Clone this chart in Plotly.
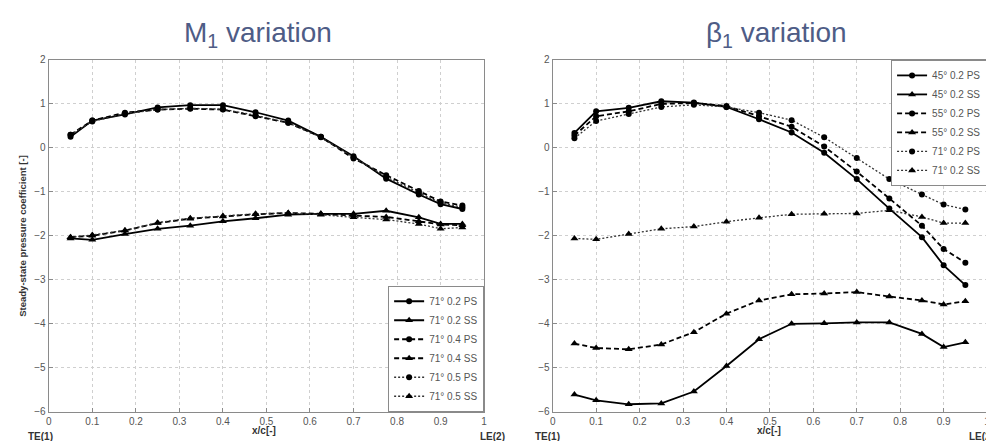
import plotly.graph_objects as go

# ---------------- data ----------------
x_pos = [0.05, 0.1, 0.175, 0.25, 0.325, 0.4, 0.475, 0.55, 0.625, 0.7, 0.775, 0.85, 0.9, 0.95]

# Left panel: M1 variation (beta1 = 71 deg)
m02_ps = [0.25, 0.62, 0.76, 0.92, 0.97, 0.97, 0.81, 0.62, 0.25, -0.19, -0.70, -1.06, -1.28, -1.39]
m02_ss = [-2.06, -2.09, -1.96, -1.84, -1.77, -1.67, -1.60, -1.52, -1.50, -1.50, -1.43, -1.58, -1.73, -1.73]
m04_ps = [0.30, 0.62, 0.80, 0.87, 0.89, 0.87, 0.72, 0.57, 0.25, -0.24, -0.62, -0.98, -1.22, -1.31]
m04_ss = [-2.03, -2.00, -1.88, -1.71, -1.61, -1.56, -1.51, -1.48, -1.50, -1.54, -1.57, -1.67, -1.74, -1.76]
m05_ps = [0.30, 0.60, 0.78, 0.87, 0.90, 0.88, 0.74, 0.57, 0.24, -0.22, -0.66, -1.02, -1.25, -1.35]
m05_ss = [-2.03, -1.98, -1.88, -1.70, -1.60, -1.55, -1.50, -1.48, -1.52, -1.58, -1.63, -1.73, -1.84, -1.81]

# Right panel: beta1 variation (M1 = 0.2)
b45_ps = [0.34, 0.83, 0.91, 1.06, 1.03, 0.93, 0.65, 0.35, -0.11, -0.71, -1.38, -2.03, -2.67, -3.12]
b45_ss = [-5.61, -5.74, -5.83, -5.81, -5.54, -4.96, -4.35, -4.00, -3.99, -3.97, -3.97, -4.23, -4.53, -4.42]
b55_ps = [0.28, 0.72, 0.83, 1.00, 1.02, 0.95, 0.72, 0.48, 0.03, -0.54, -1.15, -1.77, -2.30, -2.61]
b55_ss = [-4.45, -4.55, -4.58, -4.47, -4.19, -3.77, -3.47, -3.33, -3.31, -3.28, -3.38, -3.47, -3.56, -3.49]
b71_ps = [0.22, 0.61, 0.77, 0.93, 0.98, 0.93, 0.80, 0.63, 0.24, -0.23, -0.71, -1.06, -1.29, -1.40]
b71_ss = [-2.06, -2.08, -1.96, -1.84, -1.79, -1.68, -1.59, -1.51, -1.50, -1.49, -1.42, -1.57, -1.71, -1.71]

left_names = ["71° 0.2 PS", "71° 0.2 SS", "71° 0.4 PS", "71° 0.4 SS", "71° 0.5 PS", "71° 0.5 SS"]
right_names = ["45° 0.2 PS", "45° 0.2 SS", "55° 0.2 PS", "55° 0.2 SS", "71° 0.2 PS", "71° 0.2 SS"]
left_series = [m02_ps, m02_ss, m04_ps, m04_ss, m05_ps, m05_ss]
right_series = [b45_ps, b45_ss, b55_ps, b55_ss, b71_ps, b71_ss]

x_ticks = [0, 0.1, 0.2, 0.3, 0.4, 0.5, 0.6, 0.7, 0.8, 0.9, 1]
x_ticktext = ["0", "0.1", "0.2", "0.3", "0.4", "0.5", "0.6", "0.7", "0.8", "0.9", "1"]
y_ticks = [-6, -5, -4, -3, -2, -1, 0, 1, 2]

# ---------------- styles ----------------
dashes = ["solid", "solid", "5px,3px", "5px,3px", "2px,2px", "2px,2px"]
symbols = ["circle", "triangle-up"] * 3
FONT = "Liberation Sans, Arial, sans-serif"

fig = go.Figure()

def add(series, names, xa, ya, leg):
    for i, (vals, nm) in enumerate(zip(series, names)):
        dot = i >= 4
        fig.add_trace(go.Scatter(
            x=x_pos, y=vals, name=nm, mode="lines+markers",
            xaxis=xa, yaxis=ya, legend=leg,
            line=dict(color="#333333" if dot else "black", width=1.3 if dot else 1.8, dash=dashes[i]),
            marker=dict(symbol=symbols[i], size=6 if symbols[i] == "circle" else 7, color="black"),
        ))

add(left_series, left_names, "x", "y", "legend")
add(right_series, right_names, "x2", "y2", "legend2")

W, H = 994, 441
def px(v):
    return v / W
def py(v):
    return (H - v) / H

axis_common = dict(
    showline=True, linecolor="#8a8a8a", linewidth=1.2, mirror=True,
    ticks="inside", ticklen=4, tickcolor="#8a8a8a",
    showgrid=True, gridcolor="#cfcfcf", griddash="dot", gridwidth=1,
    zeroline=False, tickfont=dict(family=FONT, size=10, color="#555555"),
)

xd1 = [px(38), px(476)]
xd2 = [px(545), px(982)]
yd = [py(408), py(48)]

fig.update_layout(
    width=W, height=H, margin=dict(l=0, r=0, t=0, b=0),
    paper_bgcolor="white", plot_bgcolor="white",
    font=dict(family=FONT),
    xaxis=dict(domain=xd1, range=[0, 1], tickvals=x_ticks, ticktext=x_ticktext, anchor="y", **axis_common),
    yaxis=dict(domain=yd, range=[-6, 2], tickvals=y_ticks, anchor="x", **axis_common),
    xaxis2=dict(domain=xd2, range=[0, 1], tickvals=x_ticks, ticktext=x_ticktext, anchor="y2", **axis_common),
    yaxis2=dict(domain=yd, range=[-6, 2], tickvals=y_ticks, anchor="x2", **axis_common),
    legend=dict(x=px(476), y=py(408), xanchor="right", yanchor="bottom",
                bgcolor="white", bordercolor="#8a8a8a", borderwidth=1,
                font=dict(family=FONT, size=10, color="#555555"),
                tracegroupgap=0, itemwidth=30),
    legend2=dict(x=px(982), y=py(48), xanchor="right", yanchor="top",
                 bgcolor="white", bordercolor="#8a8a8a", borderwidth=1,
                 font=dict(family=FONT, size=10, color="#555555"),
                 tracegroupgap=0, itemwidth=30),
    showlegend=True,
)

title_color = "#4e5c86"
ann = [
    dict(text="M<sub>1</sub> variation", x=px(248), y=py(22), font=dict(size=28, color=title_color)),
    dict(text="β<sub>1</sub> variation", x=px(770), y=py(22), font=dict(size=28, color=title_color)),
    dict(text="<b>x/c[-]</b>", x=px(255), y=py(427), font=dict(size=10, color="#333333")),
    dict(text="<b>x/c[-]</b>", x=px(763), y=py(427), font=dict(size=10, color="#333333")),
    dict(text="<b>TE(1)</b>", x=px(30), y=py(433), font=dict(size=10, color="#333333")),
    dict(text="<b>LE(2)</b>", x=px(484), y=py(433), font=dict(size=10, color="#333333")),
    dict(text="<b>TE(1)</b>", x=px(540), y=py(433), font=dict(size=10, color="#333333")),
    dict(text="<b>LE(2)</b>", x=px(976), y=py(433), font=dict(size=10, color="#333333")),
    dict(text="<b>Steady-state pressure coefficient [-]</b>", x=px(12), y=py(228), textangle=-90,
         font=dict(size=9.5, color="#333333")),
]
for a in ann:
    a.update(xref="paper", yref="paper", showarrow=False, xanchor="center", yanchor="middle")
    a["font"]["family"] = FONT
fig.update_layout(annotations=ann)

fig.write_html("out.html")
